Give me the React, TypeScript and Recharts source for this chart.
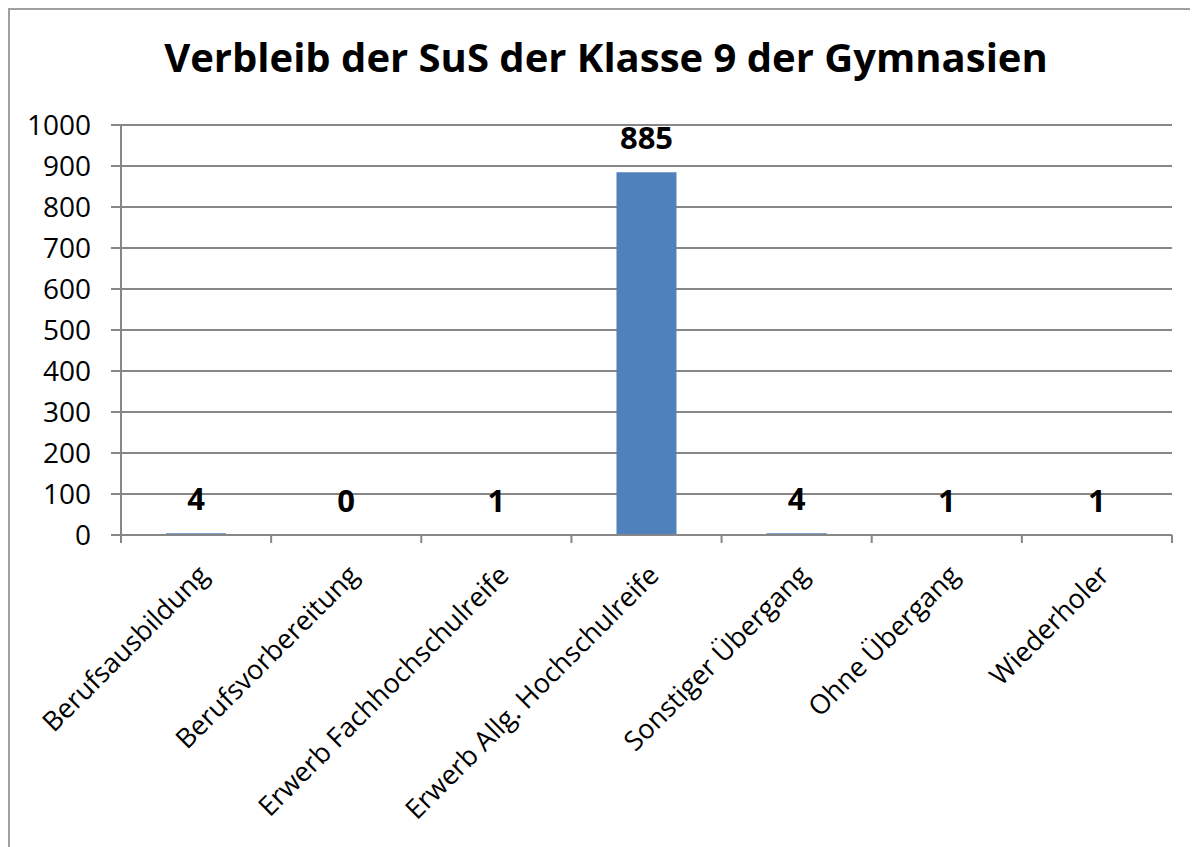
import React from "react";
import {
  ComposedChart,
  Bar,
  Line,
  XAxis,
  YAxis,
  CartesianGrid,
  LabelList,
} from "recharts";

const categories: string[] = [
  "Berufsausbildung",
  "Berufsvorbereitung",
  "Erwerb Fachhochschulreife",
  "Erwerb Allg. Hochschulreife",
  "Sonstiger Übergang",
  "Ohne Übergang",
  "Wiederholer",
];
const values: number[] = [4, 0, 1, 885, 4, 1, 1];
const yTicks: number[] = [0, 100, 200, 300, 400, 500, 600, 700, 800, 900, 1000];

const data = categories.map((name, i) => ({ name, value: values[i] }));

const FONT = "'Open Sans', sans-serif";
const GRID = "#878787";

const XTick = (props: any) => {
  const { x, y, payload, index } = props;
  const half = payload && payload.offset ? payload.offset : 75;
  const last = index === categories.length - 1;
  return (
    <g>
      <line x1={x - half} y1={y} x2={x - half} y2={y + 8} stroke={GRID} strokeWidth={2} />
      {last && (
        <line x1={x + half} y1={y} x2={x + half} y2={y + 8} stroke={GRID} strokeWidth={2} />
      )}
      <text
        transform={`translate(${x + 14},${y + 42}) rotate(-45)`}
        textAnchor="end"
        fontFamily={FONT}
        fontSize={27}
        fill="#000"
      >
        {payload.value}
      </text>
    </g>
  );
};

// labels hang on an invisible line so the 0 column gets its number too
const ValueLabel = (props: any) => {
  const { x, y, value, index } = props;
  const v = value !== undefined && value !== null ? value : values[index];
  return (
    <text
      x={x}
      y={Number(y) - 23}
      textAnchor="middle"
      fontFamily={FONT}
      fontWeight={700}
      fontSize={31}
      fill="#000"
    >
      {v}
    </text>
  );
};

const App = () => {
  return (
    <div
      style={{
        position: "relative",
        width: 1190,
        height: 839,
        borderLeft: "2px solid #a0a0a0",
        borderTop: "2px solid #a0a0a0",
        boxSizing: "border-box",
        overflow: "hidden",
      }}
    >
      <div
        style={{
          position: "absolute",
          left: 0,
          width: 1192,
          top: 22,
          textAlign: "center",
          fontFamily: FONT,
          fontWeight: 700,
          fontSize: 40,
          color: "#000",
          lineHeight: "50px",
        }}
      >
        Verbleib der SuS der Klasse 9 der Gymnasien
      </div>
      <ComposedChart
        width={1188}
        height={837}
        data={data}
        margin={{ top: 115, right: 26, bottom: 6, left: 0 }}
        barCategoryGap="30%"
      >
        <CartesianGrid vertical={false} stroke={GRID} strokeWidth={2} />
        <XAxis
          dataKey="name"
          interval={0}
          height={306}
          tickLine={false}
          tickSize={0}
          tickMargin={0}
          axisLine={{ stroke: GRID, strokeWidth: 2 }}
          tick={<XTick />}
        />
        <YAxis
          width={111}
          domain={[0, 1000]}
          ticks={yTicks}
          interval={0}
          tickSize={10}
          tickMargin={20}
          tickLine={{ stroke: GRID, strokeWidth: 2 }}
          axisLine={{ stroke: GRID, strokeWidth: 2 }}
          tick={{ fill: "#000", fontFamily: FONT, fontSize: 28 }}
        />
        <Bar dataKey="value" fill="#4F81BD" isAnimationActive={false} />
        <Line
          dataKey="value"
          stroke="none"
          dot={false}
          activeDot={false}
          isAnimationActive={false}
        >
          <LabelList dataKey="value" content={<ValueLabel />} />
        </Line>
      </ComposedChart>
    </div>
  );
};

export default App;
